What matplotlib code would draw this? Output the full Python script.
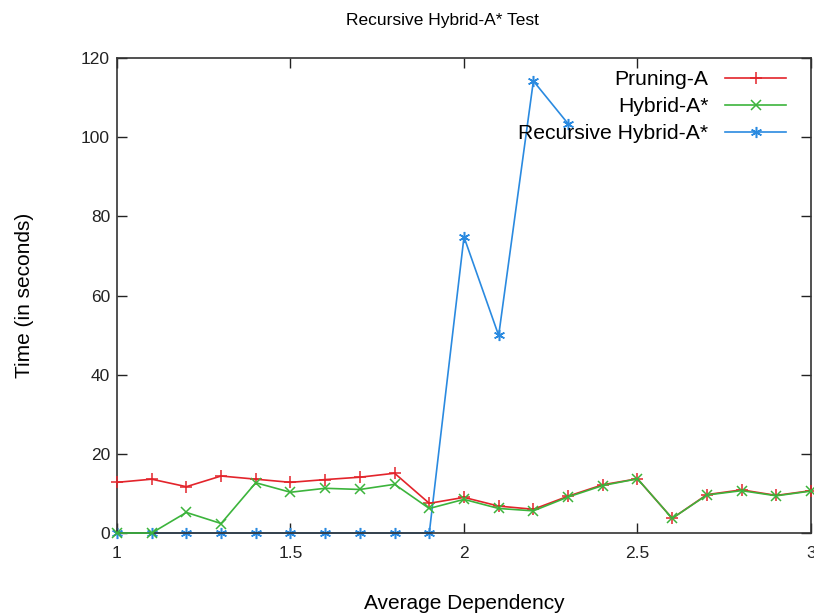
import matplotlib.pyplot as plt

plt.rcParams['font.family'] = ['Liberation Sans', 'DejaVu Sans']

# ==============================
# Data
# ==============================
dependency = [1.0, 1.1, 1.2, 1.3, 1.4, 1.5, 1.6, 1.7, 1.8, 1.9, 2.0,
              2.1, 2.2, 2.3, 2.4, 2.5, 2.6, 2.7, 2.8, 2.9, 3.0]
pruning_a = [12.8, 13.6, 11.7, 14.4, 13.6, 12.8, 13.5, 14.1, 15.1, 7.5, 9.0,
             6.8, 6.0, 9.3, 12.2, 13.7, 3.7, 9.7, 10.9, 9.5, 10.7]
hybrid_a = [0.0, 0.0, 5.2, 2.4, 12.7, 10.3, 11.3, 11.0, 12.3, 6.2, 8.5,
            6.2, 5.6, 9.1, 12.0, 13.7, 3.7, 9.6, 10.7, 9.4, 10.6]
recursive_dep = [1.0, 1.1, 1.2, 1.3, 1.4, 1.5, 1.6, 1.7, 1.8, 1.9, 2.0, 2.1, 2.2, 2.3]
recursive_hybrid = [0, 0, 0, 0, 0, 0, 0, 0, 0, 0, 74.8, 49.9, 114.2, 103.4]

# ==============================
# Plot
# ==============================
fig = plt.figure(figsize=(8.14, 6.14), dpi=100)
ax = fig.add_axes([0.1437, 0.1319, 0.8526, 0.7736])

asterisk = (6, 2, 0)
ax.plot(dependency, pruning_a, color='#e3242b', lw=1.2, marker='+', ms=9,
        mew=1.1, label='Pruning-A', clip_on=False, zorder=3)
ax.plot(dependency, hybrid_a, color='#3cb43c', lw=1.2, marker='x', ms=7,
        mew=1.1, label='Hybrid-A*', clip_on=False, zorder=3)
ax.plot(recursive_dep, recursive_hybrid, color='#2a8ae0', lw=1.2, marker=asterisk,
        ms=8, mew=1.1, label='Recursive Hybrid-A*', clip_on=False, zorder=2)

ax.set_xlim(1, 3)
ax.set_ylim(0, 120)
ax.set_xticks([1, 1.5, 2, 2.5, 3])
ax.set_xticklabels(['1', '1.5', '2', '2.5', '3'])
ax.set_yticks(range(0, 121, 20))
ax.tick_params(direction='in', length=7, width=1.0, top=True, right=True,
               labelsize=12.5, colors='#222222')
ax.tick_params(axis='y', pad=5)
ax.tick_params(axis='x', pad=9)
for s in ax.spines.values():
    s.set_linewidth(1.2)
    s.set_color('#333333')

ax.set_xlabel('Average Dependency', fontsize=15, labelpad=24)
ax.set_ylabel('Time (in seconds)', fontsize=15, labelpad=34)
fig.text(0.5430, 0.967, 'Recursive Hybrid-A* Test', fontsize=12.5, ha='center', va='center')

leg = ax.legend(loc='upper right', bbox_to_anchor=(0.992, 1.014), frameon=False,
                markerfirst=False, fontsize=15.2, handlelength=2.9, labelspacing=0.38,
                handletextpad=0.8)
for t in leg.get_texts():
    t.set_ha('right')

fig.savefig('out.png', dpi=100)
